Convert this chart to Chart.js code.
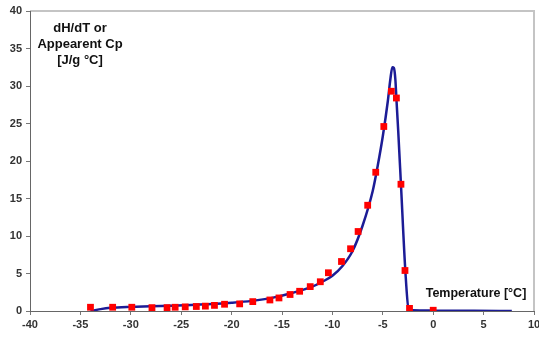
<!DOCTYPE html>
<html>
<head>
<meta charset="utf-8">
<script src="https://cdn.jsdelivr.net/npm/chart.js@4/dist/chart.umd.min.js"></script>
<style>
html,body{margin:0;padding:0;background:#fff;}
#wrap{width:539px;height:337px;position:relative;}
</style>
</head>
<body>
<div id="wrap"><canvas id="c" width="539" height="337"></canvas></div>
<script>
// Measured points (red squares)
const measuredT = [-34.0,-31.8,-29.9,-27.9,-26.4,-25.6,-24.6,-23.5,-22.6,-21.7,-20.7,-19.2,-17.9,-16.2,-15.3,-14.2,-13.25,-12.2,-11.2,-10.4,-9.1,-8.2,-7.45,-6.5,-5.7,-4.9,-4.15,-3.65,-3.2,-2.8,-2.35,0.0];
const measuredV = [0.5,0.5,0.5,0.45,0.45,0.5,0.55,0.6,0.65,0.75,0.9,0.95,1.25,1.47,1.74,2.2,2.63,3.25,3.9,5.1,6.6,8.3,10.6,14.1,18.5,24.6,29.3,28.4,16.9,5.4,0.35,0.1];
// Model curve (blue line)
const curveT = [-34,-33,-32,-30,-28,-26,-24,-22,-20,-18,-16,-14,-12,-11,-10,-9,-8,-7,-6,-5.5,-5,-4.5,-4.25,-4.05,-3.9,-3.75,-3.65,-3.47,-3.2,-2.77,-2.45,-2.0,0,4,7.8];
const curveV = [0,0.25,0.42,0.55,0.62,0.7,0.8,0.92,1.1,1.35,1.75,2.4,3.25,3.9,4.7,6.0,8.0,11.4,16.0,19.4,23.3,28.0,30.9,32.5,32.4,30.8,28.3,24,16.9,5.5,0.35,0.1,0.05,0.02,0];
// Axis settings
const xMin = -40, xMax = 10, xStep = 5;
const yMin = 0, yMax = 40, yStep = 5;
const yTitleLines = ["dH/dT or", "Appearent Cp", "[J/g \u00B0C]"];
const xTitle = "Temperature [\u00B0C]";

const measured = measuredT.map((t,i)=>({x:t,y:measuredV[i]}));
const curve = curveT.map((t,i)=>({x:t,y:curveV[i]}));

const decor = {
  id:'decor',
  beforeDraw(chart){
    const {ctx, chartArea:a} = chart;
    ctx.save();
    ctx.fillStyle='#fff';
    ctx.fillRect(0,0,chart.width,chart.height);
    ctx.strokeStyle='#c4c4c4';
    ctx.lineWidth=2;
    ctx.beginPath();
    ctx.moveTo(a.left, a.top);
    ctx.lineTo(a.right, a.top);
    ctx.lineTo(a.right, a.bottom);
    ctx.stroke();
    ctx.restore();
  },
  afterDraw(chart){
    const {ctx} = chart;
    ctx.save();
    ctx.fillStyle='#111';
    ctx.textAlign='center';
    ctx.textBaseline='middle';
    ctx.font='bold 13px "Liberation Sans", Arial, sans-serif';
    const ys=[28,44,60];
    yTitleLines.forEach((s,i)=>ctx.fillText(s,80,ys[i]));
    ctx.font='bold 12.5px "Liberation Sans", Arial, sans-serif';
    ctx.fillText(xTitle,476,294);
    ctx.restore();
  }
};

new Chart(document.getElementById('c'), {
  type:'scatter',
  data:{
    datasets:[
      {
        label:'Measured',
        data:measured,
        pointStyle:'rect',
        pointRadius:4.8,
        pointBackgroundColor:'#ff0000',
        pointBorderColor:'#ff0000',
        pointBorderWidth:0,
        showLine:false,
        order:0
      },
      {
        label:'Model',
        data:curve,
        showLine:true,
        pointRadius:0,
        borderColor:'#1c1c96',
        borderWidth:2.5,
        cubicInterpolationMode:'monotone',
        order:1
      }
    ]
  },
  options:{
    responsive:false,
    devicePixelRatio:1,
    animation:false,
    layout:{padding:{top:11,right:5,left:0,bottom:0}},
    plugins:{legend:{display:false},tooltip:{enabled:false}},
    scales:{
      x:{
        type:'linear',min:xMin,max:xMax,
        ticks:{stepSize:xStep,color:'#333',font:{family:'"Liberation Sans", Arial, sans-serif',size:11,weight:'bold'},padding:3,maxRotation:0},
        grid:{drawOnChartArea:false,tickLength:4,color:'#777'},
        border:{color:'#666',width:1},
        afterFit(s){s.height=26;s.paddingLeft=0;s.paddingRight=0;}
      },
      y:{
        type:'linear',min:yMin,max:yMax,
        ticks:{stepSize:yStep,color:'#333',font:{family:'"Liberation Sans", Arial, sans-serif',size:11,weight:'bold'},padding:4},
        grid:{drawOnChartArea:false,tickLength:4,color:'#777'},
        border:{color:'#666',width:1},
        afterFit(s){s.width=30;s.paddingTop=0;s.paddingBottom=0;}
      }
    }
  },
  plugins:[decor]
});
</script>
</body>
</html>
